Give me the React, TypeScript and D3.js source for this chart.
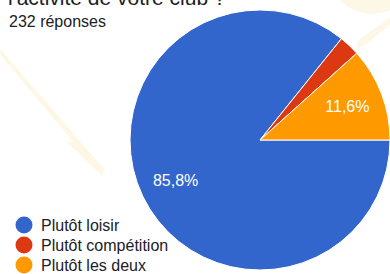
import { useEffect, useRef } from 'react';
import * as d3 from 'd3';

const categories = ['Plutôt loisir', 'Plutôt compétition', 'Plutôt les deux'];
const counts = [199, 6, 27];
const sliceLabels = ['85,8%', '', '11,6%'];
const colors = ['#3366cc', '#dc3912', '#ff9900'];
const title = "l'activité de votre club ?";
const subtitle = '232 réponses';

const W = 390;
const H = 274;
const FONT = '"Liberation Sans", Arial, sans-serif';

export default function App() {
  const svgRef = useRef<SVGSVGElement>(null);

  useEffect(() => {
    if (!svgRef.current) return;
    const svg = d3.select(svgRef.current);
    svg.selectAll('*').remove();

    svg.append('rect').attr('width', W).attr('height', H).attr('fill', '#ffffff');

    // faint background decoration
    const deco = svg.append('g').attr('fill', '#fdf8e6').attr('stroke', '#fdf8e6');
    deco.append('path')
      .attr('d', 'M0,50 L2,56 L76,144 L68,142 L102,175 L104,170 Z')
      .attr('stroke-width', 1.5);
    deco.append('path')
      .attr('d', 'M340,0 Q352,12 372,14 L390,10 L390,0 Z');
    deco.append('path')
      .attr('d', 'M390,18 L362,38 Q355,44 358,48 L366,44 L390,24 Z');

    // title (cut off at top, as in the source) and subtitle
    svg.append('text')
      .attr('x', 8).attr('y', 5)
      .attr('font-family', FONT).attr('font-size', 21)
      .attr('fill', '#202124')
      .text(title);
    svg.append('text')
      .attr('x', 9).attr('y', 27)
      .attr('font-family', FONT).attr('font-size', 16)
      .attr('fill', '#202124')
      .text(subtitle);

    // pie
    const cx = 260, cy = 140, r = 130;
    const pie = d3.pie<number>()
      .sort(null)
      .startAngle(Math.PI / 2)
      .endAngle(Math.PI / 2 + 2 * Math.PI);
    const arcs = pie(counts);
    const arc = d3.arc<d3.PieArcDatum<number>>().innerRadius(0).outerRadius(r);
    const labelArc = d3.arc<d3.PieArcDatum<number>>().innerRadius(r * 0.72).outerRadius(r * 0.72);

    const g = svg.append('g').attr('transform', `translate(${cx},${cy})`);
    g.selectAll('path.slice')
      .data(arcs)
      .enter()
      .append('path')
      .attr('class', 'slice')
      .attr('d', arc)
      .attr('fill', (_, i) => colors[i])
      .attr('stroke', '#ffffff')
      .attr('stroke-width', 1);

    g.selectAll('text.lbl')
      .data(arcs)
      .enter()
      .append('text')
      .attr('class', 'lbl')
      .attr('transform', d => `translate(${labelArc.centroid(d)})`)
      .attr('text-anchor', 'middle')
      .attr('dy', '0.35em')
      .attr('font-family', FONT)
      .attr('font-size', 16)
      .attr('fill', '#ffffff')
      .text((_, i) => sliceLabels[i]);

    // legend
    const legend = svg.append('g');
    const rowY = d3.scaleLinear().domain([0, 1]).range([225, 245]);
    categories.forEach((c, i) => {
      legend.append('circle')
        .attr('cx', 24).attr('cy', rowY(i)).attr('r', 8.5)
        .attr('fill', colors[i]);
      legend.append('text')
        .attr('x', 41).attr('y', rowY(i)).attr('dy', '0.35em')
        .attr('font-family', FONT).attr('font-size', 16)
        .attr('fill', '#202124')
        .text(c);
    });
  }, []);

  return (
    <svg
      ref={svgRef}
      width={W}
      height={H}
      style={{ position: 'absolute', left: 0, top: 0, display: 'block' }}
    />
  );
}
